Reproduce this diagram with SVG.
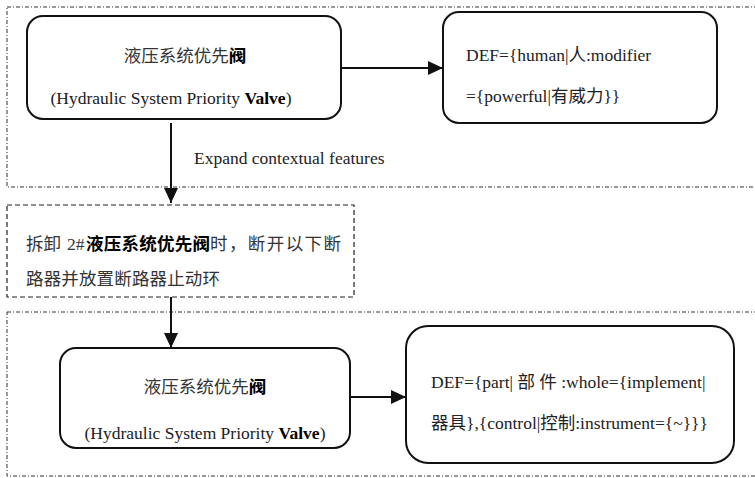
<svg xmlns="http://www.w3.org/2000/svg" width="755" height="478" viewBox="0 0 755 478">
  <style>
    .frame { fill: none; stroke: #333; stroke-width: 1; stroke-dasharray: 4 2 1 2; }
    .dashed { fill: none; stroke: #222; stroke-width: 1.2; stroke-dasharray: 5 3; }
    .node { fill: #fff; stroke: #111; stroke-width: 2; }
    .edge { fill: none; stroke: #111; stroke-width: 2; }
    text { font-family: "Liberation Serif", "Noto Sans CJK SC", serif; font-size: 17.5px; fill: #222; }
    .cjk { font-size: 17.5px; fill: #333; }
    .b { font-weight: bold; fill: #000; }
  </style>
  <defs>
    <marker id="arrow" viewBox="0 0 15 14" refX="15" refY="7" markerWidth="15" markerHeight="14" markerUnits="userSpaceOnUse" orient="auto">
      <path d="M0,0 L15,7 L0,14 z" fill="#111"/>
    </marker>
  </defs>

  <!-- grouping frames -->
  <rect class="frame" x="7" y="7" width="760" height="180"/>
  <rect class="frame" x="7" y="312" width="760" height="164"/>

  <g id="connectors">
    <line class="edge" x1="341" y1="68" x2="443" y2="68" marker-end="url(#arrow)"/>
    <line class="edge" x1="171" y1="123" x2="171" y2="203" marker-end="url(#arrow)"/>
    <line class="edge" x1="171" y1="297" x2="171" y2="348" marker-end="url(#arrow)"/>
    <line class="edge" x1="300" y1="397" x2="406" y2="397" marker-end="url(#arrow)"/>
    <text x="194" y="164">Expand contextual features</text>
  </g>

  <g id="valve-top">
    <rect class="node" x="27" y="16" width="314" height="103" rx="16"/>
    <text class="cjk" x="185" y="62" text-anchor="middle">液压系统优先<tspan class="b">阀</tspan></text>
    <text x="171" y="104" text-anchor="middle">(Hydraulic System Priority <tspan class="b">Valve</tspan>)</text>
  </g>

  <g id="def-top">
    <rect class="node" x="443" y="12" width="274" height="111" rx="16"/>
    <text x="466" y="61">DEF={human|人:modifier</text>
    <text x="466" y="102">={powerful|有威力}}</text>
  </g>

  <g id="context">
    <rect class="dashed" x="7" y="205" width="347" height="92"/>
    <text class="cjk" y="250"><tspan x="26">拆卸</tspan><tspan x="67">2#</tspan><tspan x="86" class="b" textLength="124">液压系统优先阀</tspan><tspan x="210" textLength="131">时，断开以下断</tspan></text>
    <text class="cjk" x="26" y="285" textLength="194">路器并放置断路器止动环</text>
  </g>

  <g id="valve-bottom">
    <rect class="node" x="60" y="348" width="290" height="100" rx="16"/>
    <text class="cjk" x="205" y="393" text-anchor="middle">液压系统优先<tspan class="b">阀</tspan></text>
    <text x="205" y="439" text-anchor="middle">(Hydraulic System Priority <tspan class="b">Valve</tspan>)</text>
  </g>

  <g id="def-bottom">
    <rect class="node" x="406" y="326" width="328" height="137" rx="22"/>
    <text x="431" y="388">DEF={part| 部 件 :whole={implement|</text>
    <text x="431" y="429">器具},{control|控制:instrument={~}}}</text>
  </g>
</svg>
